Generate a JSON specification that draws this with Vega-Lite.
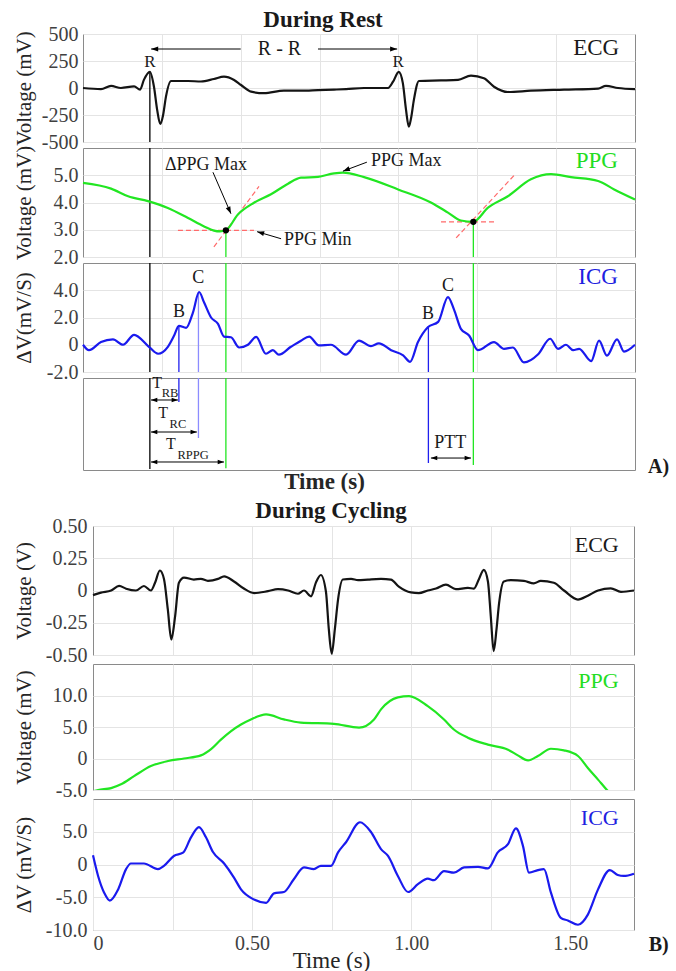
{
  "$schema": "https://vega.github.io/schema/vega-lite/v6.json",
  "background": "white",
  "padding": {"left": 12, "top": 8, "right": 0, "bottom": 0},
  "columns": 1,
  "spacing": 5,
  "datasets": {
    "ecgR": [{"t":0,"v":0},{"t":0.057,"v":-10},{"t":0.089,"v":20},{"t":0.12,"v":0},{"t":0.162,"v":15},{"t":0.181,"v":-15},{"t":0.193,"v":75},{"t":0.212,"v":150},{"t":0.225,"v":12},{"t":0.235,"v":-200},{"t":0.245,"v":-333},{"t":0.254,"v":-250},{"t":0.263,"v":-80},{"t":0.279,"v":65},{"t":0.333,"v":65},{"t":0.374,"v":60},{"t":0.415,"v":83},{"t":0.447,"v":105},{"t":0.479,"v":74},{"t":0.501,"v":28},{"t":0.533,"v":-34},{"t":0.574,"v":-48},{"t":0.637,"v":-25},{"t":0.691,"v":-25},{"t":0.745,"v":-20},{"t":0.796,"v":-15},{"t":0.834,"v":-10},{"t":0.891,"v":0},{"t":0.967,"v":0},{"t":0.983,"v":58},{"t":1.001,"v":150},{"t":1.014,"v":45},{"t":1.024,"v":-200},{"t":1.033,"v":-358},{"t":1.04,"v":-280},{"t":1.049,"v":-110},{"t":1.065,"v":65},{"t":1.135,"v":70},{"t":1.189,"v":75},{"t":1.23,"v":114},{"t":1.271,"v":90},{"t":1.303,"v":12},{"t":1.347,"v":-37},{"t":1.42,"v":-25},{"t":1.525,"v":-15},{"t":1.633,"v":-5},{"t":1.658,"v":20},{"t":1.696,"v":0},{"t":1.75,"v":-10}],
    "ppgR": [{"t":0,"v":4.72},{"t":0.089,"v":4.51},{"t":0.143,"v":4.23},{"t":0.206,"v":4.05},{"t":0.269,"v":3.8},{"t":0.333,"v":3.43},{"t":0.384,"v":3.12},{"t":0.415,"v":2.97},{"t":0.434,"v":2.94},{"t":0.453,"v":2.98},{"t":0.491,"v":3.56},{"t":0.542,"v":3.99},{"t":0.596,"v":4.3},{"t":0.65,"v":4.69},{"t":0.691,"v":4.91},{"t":0.745,"v":4.94},{"t":0.796,"v":5.07},{"t":0.824,"v":5.1},{"t":0.891,"v":4.93},{"t":0.999,"v":4.48},{"t":1.103,"v":4.0},{"t":1.157,"v":3.63},{"t":1.198,"v":3.34},{"t":1.237,"v":3.29},{"t":1.284,"v":3.81},{"t":1.347,"v":4.23},{"t":1.42,"v":4.85},{"t":1.484,"v":5.04},{"t":1.547,"v":4.93},{"t":1.633,"v":4.79},{"t":1.684,"v":4.48},{"t":1.75,"v":4.11}],
    "icgR": [{"t":0,"v":0},{"t":0.019,"v":-0.4},{"t":0.057,"v":0.2},{"t":0.095,"v":0.4},{"t":0.127,"v":0},{"t":0.162,"v":0.73},{"t":0.209,"v":-0.15},{"t":0.238,"v":-0.66},{"t":0.269,"v":-0.15},{"t":0.289,"v":0.68},{"t":0.304,"v":1.39},{"t":0.327,"v":1.24},{"t":0.349,"v":2.4},{"t":0.368,"v":3.87},{"t":0.384,"v":3.1},{"t":0.406,"v":2.0},{"t":0.428,"v":1.53},{"t":0.447,"v":0.6},{"t":0.469,"v":0.55},{"t":0.495,"v":-0.2},{"t":0.523,"v":0},{"t":0.549,"v":0.58},{"t":0.58,"v":-0.66},{"t":0.602,"v":-0.4},{"t":0.621,"v":-0.73},{"t":0.659,"v":-0.15},{"t":0.691,"v":0.3},{"t":0.717,"v":0.6},{"t":0.748,"v":-0.05},{"t":0.786,"v":0},{"t":0.834,"v":-0.73},{"t":0.875,"v":0.3},{"t":0.913,"v":-0.1},{"t":0.938,"v":0.1},{"t":0.977,"v":-0.4},{"t":1.015,"v":-0.78},{"t":1.037,"v":-1.25},{"t":1.062,"v":0.2},{"t":1.094,"v":1.3},{"t":1.126,"v":1.68},{"t":1.157,"v":3.5},{"t":1.176,"v":2.6},{"t":1.198,"v":1.17},{"t":1.224,"v":0.68},{"t":1.252,"v":-0.4},{"t":1.303,"v":0.2},{"t":1.335,"v":-0.3},{"t":1.363,"v":-0.2},{"t":1.398,"v":-1.3},{"t":1.443,"v":-0.7},{"t":1.481,"v":0.44},{"t":1.506,"v":-0.3},{"t":1.531,"v":0},{"t":1.554,"v":-0.4},{"t":1.573,"v":-0.3},{"t":1.611,"v":-1.2},{"t":1.636,"v":0.3},{"t":1.661,"v":-0.8},{"t":1.693,"v":0.4},{"t":1.715,"v":-0.5},{"t":1.75,"v":0}],
    "ecgC": [{"t":0,"v":-0.036},{"t":0.025,"v":-0.016},{"t":0.057,"v":0},{"t":0.082,"v":0.036},{"t":0.104,"v":0.014},{"t":0.135,"v":0},{"t":0.16,"v":0.035},{"t":0.182,"v":0},{"t":0.195,"v":0.06},{"t":0.21,"v":0.155},{"t":0.223,"v":0.09},{"t":0.235,"v":-0.145},{"t":0.246,"v":-0.38},{"t":0.258,"v":-0.2},{"t":0.27,"v":0.06},{"t":0.286,"v":0.1},{"t":0.317,"v":0.085},{"t":0.339,"v":0.09},{"t":0.361,"v":0.075},{"t":0.393,"v":0.09},{"t":0.412,"v":0.11},{"t":0.443,"v":0.07},{"t":0.474,"v":0.015},{"t":0.506,"v":-0.02},{"t":0.55,"v":-0.005},{"t":0.581,"v":0.01},{"t":0.613,"v":0},{"t":0.644,"v":-0.025},{"t":0.663,"v":0},{"t":0.685,"v":-0.045},{"t":0.701,"v":0.065},{"t":0.716,"v":0.12},{"t":0.732,"v":-0.01},{"t":0.741,"v":-0.3},{"t":0.75,"v":-0.49},{"t":0.76,"v":-0.3},{"t":0.77,"v":-0.07},{"t":0.785,"v":0.085},{"t":0.811,"v":0.09},{"t":0.833,"v":0.08},{"t":0.864,"v":0.085},{"t":0.905,"v":0.09},{"t":0.936,"v":0.085},{"t":0.961,"v":0.03},{"t":0.999,"v":-0.015},{"t":1.024,"v":-0.02},{"t":1.052,"v":0},{"t":1.078,"v":0.015},{"t":1.109,"v":0.045},{"t":1.14,"v":0.01},{"t":1.178,"v":0.02},{"t":1.197,"v":0.015},{"t":1.213,"v":0.09},{"t":1.228,"v":0.16},{"t":1.241,"v":0.07},{"t":1.25,"v":-0.2},{"t":1.259,"v":-0.47},{"t":1.268,"v":-0.3},{"t":1.276,"v":-0.1},{"t":1.291,"v":0.07},{"t":1.313,"v":0.08},{"t":1.354,"v":0.075},{"t":1.385,"v":0.055},{"t":1.407,"v":0.075},{"t":1.448,"v":0.06},{"t":1.48,"v":0},{"t":1.524,"v":-0.07},{"t":1.555,"v":-0.04},{"t":1.587,"v":0},{"t":1.627,"v":0.017},{"t":1.659,"v":-0.01},{"t":1.7,"v":0}],
    "ppgC": [{"t":0,"v":-5.2},{"t":0.016,"v":-5.0},{"t":0.057,"v":-4.7},{"t":0.088,"v":-4.1},{"t":0.129,"v":-2.8},{"t":0.182,"v":-1.2},{"t":0.236,"v":-0.4},{"t":0.286,"v":0},{"t":0.339,"v":0.5},{"t":0.371,"v":1.5},{"t":0.402,"v":3.0},{"t":0.434,"v":4.35},{"t":0.465,"v":5.4},{"t":0.496,"v":6.2},{"t":0.544,"v":7.0},{"t":0.6,"v":6.2},{"t":0.653,"v":5.7},{"t":0.757,"v":5.5},{"t":0.836,"v":4.9},{"t":0.883,"v":6.2},{"t":0.905,"v":7.8},{"t":0.958,"v":9.7},{"t":0.993,"v":9.9},{"t":1.052,"v":8.3},{"t":1.103,"v":6.2},{"t":1.134,"v":4.6},{"t":1.178,"v":3.3},{"t":1.241,"v":2.2},{"t":1.304,"v":1.4},{"t":1.335,"v":0.5},{"t":1.367,"v":-0.3},{"t":1.398,"v":0.4},{"t":1.439,"v":1.55},{"t":1.48,"v":1.3},{"t":1.524,"v":0.4},{"t":1.555,"v":-1.5},{"t":1.587,"v":-3.35},{"t":1.615,"v":-5.0},{"t":1.634,"v":-6.0}],
    "icgC": [{"t":0,"v":1.4},{"t":0.016,"v":-1.75},{"t":0.035,"v":-4.3},{"t":0.053,"v":-5.5},{"t":0.079,"v":-3.8},{"t":0.104,"v":-0.7},{"t":0.119,"v":0.15},{"t":0.16,"v":0.15},{"t":0.204,"v":-0.7},{"t":0.223,"v":-0.2},{"t":0.254,"v":1.3},{"t":0.283,"v":1.8},{"t":0.308,"v":4.15},{"t":0.333,"v":5.7},{"t":0.355,"v":4.15},{"t":0.377,"v":1.9},{"t":0.412,"v":0.15},{"t":0.443,"v":-2.0},{"t":0.465,"v":-3.8},{"t":0.506,"v":-5.35},{"t":0.544,"v":-5.85},{"t":0.569,"v":-4.4},{"t":0.6,"v":-4.2},{"t":0.631,"v":-2.25},{"t":0.663,"v":-0.45},{"t":0.694,"v":-0.7},{"t":0.716,"v":-0.2},{"t":0.748,"v":-0.2},{"t":0.77,"v":1.85},{"t":0.795,"v":3.4},{"t":0.839,"v":6.45},{"t":0.873,"v":5.0},{"t":0.905,"v":2.35},{"t":0.927,"v":1.3},{"t":0.958,"v":-1.75},{"t":0.99,"v":-4.2},{"t":1.021,"v":-3.0},{"t":1.052,"v":-2.15},{"t":1.071,"v":-2.4},{"t":1.103,"v":-1.0},{"t":1.134,"v":-1.25},{"t":1.166,"v":-0.45},{"t":1.21,"v":-0.35},{"t":1.241,"v":-0.6},{"t":1.272,"v":1.85},{"t":1.304,"v":3.1},{"t":1.329,"v":5.5},{"t":1.351,"v":2.85},{"t":1.37,"v":-1.25},{"t":1.398,"v":-0.85},{"t":1.417,"v":-0.7},{"t":1.439,"v":-4.3},{"t":1.47,"v":-8.15},{"t":1.492,"v":-8.55},{"t":1.524,"v":-9.2},{"t":1.555,"v":-7.65},{"t":1.587,"v":-3.8},{"t":1.624,"v":-0.85},{"t":1.649,"v":-1.6},{"t":1.668,"v":-1.75},{"t":1.7,"v":-1.4}]
  },
  "concat": [
    {
      "title": {"text": "During Rest", "dx": 240, "offset": -8},
      "bounds": "flush",
      "spacing": 6,
      "vconcat": [
        {
          "width": 552, "height": 108,
          "encoding": {
            "x": {"field": "t", "type": "quantitative", "scale": {"domain": [0, 1.75], "nice": false, "zero": false}, "axis": {"values": [0.25, 0.5, 0.75, 1, 1.25, 1.5], "labels": false, "title": null, "grid": true}},
            "y": {"field": "v", "type": "quantitative", "scale": {"domain": [-500, 500], "nice": false, "zero": false}, "axis": {"values": [-500, -250, 0, 250, 500], "title": "Voltage (mV)", "labelExpr": "datum.value < 0 ? '-' + format(-datum.value, 'd') : format(datum.value, 'd')", "labelPadding": 5, "minExtent": 46, "maxExtent": 46, "titlePadding": 3}}
          },
          "layer": [
            {"data": {"values": [{"t": 0.212, "v": 150, "v2": -500, "k": "R"}]}, "mark": {"type": "rule", "strokeWidth": 1.3}, "encoding": {"y2": {"field": "v2"}, "color": {"field": "k", "type": "nominal", "scale": {"domain": ["R", "G", "B", "C"], "range": ["#000000", "#22e622", "#2020ee", "#8c8cff"]}, "legend": null}}},
            {"data": {"values": [{"t": 0.216, "t2": 0.5, "v": 361}, {"t": 0.745, "t2": 0.996, "v": 361}]}, "mark": {"type": "rule", "color": "#000000", "strokeWidth": 1}, "encoding": {"x2": {"field": "t2"}}},
            {"data": {"values": [{"t": 0.216, "v": 361}]}, "mark": {"type": "point", "shape": "M0,0L-2,-0.7L-2,0.7Z", "filled": true, "color": "#000000", "opacity": 1, "size": 50, "angle": 180}},
            {"data": {"values": [{"t": 0.996, "v": 361}]}, "mark": {"type": "point", "shape": "M0,0L-2,-0.7L-2,0.7Z", "filled": true, "color": "#000000", "opacity": 1, "size": 50, "angle": 0}},
            {"data": {"name": "ecgR"}, "mark": {"type": "line", "color": "#141414", "strokeWidth": 2.2, "interpolate": "monotone"}},
            {"data": {"values": [{"t": 0.623, "v": 361, "label": "R - R"}]}, "mark": {"type": "text", "fontSize": 20, "color": "#1a1a1a", "baseline": "middle"}, "encoding": {"text": {"field": "label"}}},
            {"data": {"values": [{"t": 0.212, "v": 240, "label": "R"}, {"t": 0.999, "v": 240, "label": "R"}]}, "mark": {"type": "text", "fontSize": 17, "color": "#1a1a1a", "baseline": "middle"}, "encoding": {"text": {"field": "label"}}},
            {"data": {"values": [{"t": 1.70, "v": 370, "label": "ECG"}]}, "mark": {"type": "text", "fontSize": 23, "align": "right", "baseline": "middle", "color": "#1a1a1a"}, "encoding": {"text": {"field": "label"}}}
          ]
        },
        {
          "width": 552, "height": 109,
          "encoding": {
            "x": {"field": "t", "type": "quantitative", "scale": {"domain": [0, 1.75], "nice": false, "zero": false}, "axis": {"values": [0.25, 0.5, 0.75, 1, 1.25, 1.5], "labels": false, "title": null, "grid": true}},
            "y": {"field": "v", "type": "quantitative", "scale": {"domain": [2, 6], "nice": false, "zero": false}, "axis": {"values": [2, 3, 4, 5], "title": "Voltage (mV)", "labelExpr": "format(datum.value, '.1f')", "labelPadding": 5, "minExtent": 46, "maxExtent": 46, "titlePadding": 3}}
          },
          "layer": [
            {"data": {"values": [{"t": 0.212, "v": 6, "v2": 2, "k": "R"}, {"t": 0.453, "v": 2.98, "v2": 2, "k": "G"}, {"t": 1.2375, "v": 3.29, "v2": 2, "k": "G"}]}, "mark": {"type": "rule", "strokeWidth": 1.3}, "encoding": {"y2": {"field": "v2"}, "color": {"field": "k", "type": "nominal", "legend": null}}},
            {"data": {"values": [{"t": 0.301, "t2": 0.542, "v": 2.98}, {"t": 1.135, "t2": 1.309, "v": 3.29}]}, "mark": {"type": "rule", "color": "#ff6a6a", "strokeWidth": 1.2, "strokeDash": [5, 3]}, "encoding": {"x2": {"field": "t2"}}},
            {"data": {"values": [{"t": 0.415, "v": 2.37, "t2": 0.558, "v2": 4.59}, {"t": 1.183, "v": 2.7, "t2": 1.367, "v2": 5.0}]}, "mark": {"type": "rule", "color": "#ff6a6a", "strokeWidth": 1.2, "strokeDash": [5, 3]}, "encoding": {"x2": {"field": "t2"}, "y2": {"field": "v2"}}},
            {"data": {"name": "ppgR"}, "mark": {"type": "line", "color": "#22e622", "strokeWidth": 2.2, "interpolate": "monotone"}},
            {"data": {"values": [{"t": 0.453, "v": 2.98}, {"t": 1.2375, "v": 3.29}]}, "mark": {"type": "point", "filled": true, "color": "#000000", "opacity": 1, "size": 40}},
            {"data": {"values": [{"t": 0.412, "v": 5.11, "t2": 0.469, "v2": 3.59}, {"t": 0.628, "v": 2.67, "t2": 0.552, "v2": 2.93}, {"t": 0.9, "v": 5.48, "t2": 0.824, "v2": 5.15}]}, "mark": {"type": "rule", "color": "#000000", "strokeWidth": 1}, "encoding": {"x2": {"field": "t2"}, "y2": {"field": "v2"}}},
            {"data": {"values": [{"t": 0.469, "v": 3.59}]}, "mark": {"type": "point", "shape": "M0,0L-2,-0.7L-2,0.7Z", "filled": true, "color": "#000000", "opacity": 1, "size": 50, "angle": 66}},
            {"data": {"values": [{"t": 0.552, "v": 2.93}]}, "mark": {"type": "point", "shape": "M0,0L-2,-0.7L-2,0.7Z", "filled": true, "color": "#000000", "opacity": 1, "size": 50, "angle": 196}},
            {"data": {"values": [{"t": 0.824, "v": 5.15}]}, "mark": {"type": "point", "shape": "M0,0L-2,-0.7L-2,0.7Z", "filled": true, "color": "#000000", "opacity": 1, "size": 50, "angle": 159}},
            {"data": {"values": [{"t": 0.39, "v": 5.37, "label": "ΔPPG Max"}]}, "mark": {"type": "text", "fontSize": 18, "color": "#1a1a1a", "baseline": "middle"}, "encoding": {"text": {"field": "label"}}},
            {"data": {"values": [{"t": 0.637, "v": 2.63, "label": "PPG Min"}, {"t": 0.913, "v": 5.52, "label": "PPG Max"}]}, "mark": {"type": "text", "fontSize": 18, "color": "#1a1a1a", "align": "left", "baseline": "middle"}, "encoding": {"text": {"field": "label"}}},
            {"data": {"values": [{"t": 1.696, "v": 5.52, "label": "PPG"}]}, "mark": {"type": "text", "fontSize": 23, "align": "right", "baseline": "middle", "color": "#22dd22"}, "encoding": {"text": {"field": "label"}}}
          ]
        },
        {
          "width": 552, "height": 109,
          "encoding": {
            "x": {"field": "t", "type": "quantitative", "scale": {"domain": [0, 1.75], "nice": false, "zero": false}, "axis": {"values": [0.25, 0.5, 0.75, 1, 1.25, 1.5], "labels": false, "title": null, "grid": true}},
            "y": {"field": "v", "type": "quantitative", "scale": {"domain": [-2, 6], "nice": false, "zero": false}, "axis": {"values": [-2, 0, 2, 4], "title": "ΔV(mV/S)", "labelExpr": "datum.value == 0 ? '0' : (datum.value < 0 ? '-' + format(-datum.value, '.1f') : format(datum.value, '.1f'))", "labelPadding": 5, "minExtent": 46, "maxExtent": 46, "titlePadding": 3}}
          },
          "layer": [
            {"data": {"values": [{"t": 0.212, "v": 6, "v2": -2, "k": "R"}, {"t": 0.453, "v": 6, "v2": -2, "k": "G"}, {"t": 1.2375, "v": 6, "v2": -2, "k": "G"}, {"t": 0.304, "v": 1.39, "v2": -2, "k": "B"}, {"t": 0.366, "v": 3.87, "v2": -2, "k": "C"}, {"t": 1.095, "v": 1.3, "v2": -2, "k": "B"}]}, "mark": {"type": "rule", "strokeWidth": 1.3}, "encoding": {"y2": {"field": "v2"}, "color": {"field": "k", "type": "nominal", "legend": null}}},
            {"data": {"name": "icgR"}, "mark": {"type": "line", "color": "#1a1aee", "strokeWidth": 2.2, "interpolate": "monotone"}},
            {"data": {"values": [{"t": 0.304, "v": 2.4, "label": "B"}, {"t": 0.365, "v": 4.9, "label": "C"}, {"t": 1.094, "v": 2.26, "label": "B"}, {"t": 1.157, "v": 4.3, "label": "C"}]}, "mark": {"type": "text", "fontSize": 18, "color": "#1a1a1a", "baseline": "middle"}, "encoding": {"text": {"field": "label"}}},
            {"data": {"values": [{"t": 1.696, "v": 4.96, "label": "ICG"}]}, "mark": {"type": "text", "fontSize": 23, "align": "right", "baseline": "middle", "color": "#2020e0"}, "encoding": {"text": {"field": "label"}}}
          ]
        },
        {
          "width": 552, "height": 92,
          "encoding": {
            "x": {"field": "t", "type": "quantitative", "scale": {"domain": [0, 1.75], "nice": false, "zero": false}, "axis": {"values": [], "labels": false, "grid": false, "title": "Time (s)", "titleFontWeight": "bold", "titleFontSize": 23, "titleX": 241, "titlePadding": 0}},
            "y": {"field": "v", "type": "quantitative", "scale": {"domain": [0, 1], "nice": false, "zero": false}, "axis": null}
          },
          "layer": [
            {"data": {"values": [{"t": 0.212, "v": 1, "v2": 0.01, "k": "R"}, {"t": 0.453, "v": 1, "v2": 0.02, "k": "G"}, {"t": 1.2375, "v": 1, "v2": 0.054, "k": "G"}, {"t": 0.304, "v": 1, "v2": 0.74, "k": "B"}, {"t": 0.366, "v": 1, "v2": 0.348, "k": "C"}, {"t": 1.095, "v": 1, "v2": 0.076, "k": "B"}]}, "mark": {"type": "rule", "strokeWidth": 1.3}, "encoding": {"y2": {"field": "v2"}, "color": {"field": "k", "type": "nominal", "legend": null}}},
            {"data": {"values": [{"t": 0.2156, "t2": 0.301, "v": 0.761}, {"t": 0.2156, "t2": 0.361, "v": 0.413}, {"t": 0.2156, "t2": 0.447, "v": 0.087}, {"t": 1.103, "t2": 1.23, "v": 0.13}]}, "mark": {"type": "rule", "color": "#000000", "strokeWidth": 1}, "encoding": {"x2": {"field": "t2"}}},
            {"data": {"values": [{"t": 0.2156, "v": 0.761}, {"t": 0.2156, "v": 0.413}, {"t": 0.2156, "v": 0.087}, {"t": 1.103, "v": 0.13}]}, "mark": {"type": "point", "shape": "M0,0L-2,-0.7L-2,0.7Z", "filled": true, "color": "#000000", "opacity": 1, "size": 40, "angle": 180}},
            {"data": {"values": [{"t": 0.301, "v": 0.761}, {"t": 0.361, "v": 0.413}, {"t": 0.447, "v": 0.087}, {"t": 1.23, "v": 0.13}]}, "mark": {"type": "point", "shape": "M0,0L-2,-0.7L-2,0.7Z", "filled": true, "color": "#000000", "opacity": 1, "size": 40, "angle": 0}},
            {"data": {"values": [{"t": 0.235, "v": 0.946, "label": "T"}, {"t": 0.254, "v": 0.62, "label": "T"}, {"t": 0.279, "v": 0.283, "label": "T"}]}, "mark": {"type": "text", "fontSize": 16, "color": "#1a1a1a", "baseline": "middle"}, "encoding": {"text": {"field": "label"}}},
            {"data": {"values": [{"t": 0.276, "v": 0.837, "label": "RB"}, {"t": 0.301, "v": 0.5, "label": "RC"}, {"t": 0.349, "v": 0.163, "label": "RPPG"}]}, "mark": {"type": "text", "fontSize": 12.5, "color": "#1a1a1a", "baseline": "middle"}, "encoding": {"text": {"field": "label"}}},
            {"data": {"values": [{"t": 1.164, "v": 0.293, "label": "PTT"}]}, "mark": {"type": "text", "fontSize": 18, "color": "#1a1a1a", "baseline": "middle"}, "encoding": {"text": {"field": "label"}}},
            {"data": {"values": [{"t": 1.791, "v": 0.033, "label": "A)"}]}, "mark": {"type": "text", "fontSize": 20, "fontWeight": "bold", "color": "#1a1a1a", "align": "left", "baseline": "middle"}, "encoding": {"text": {"field": "label"}}}
          ]
        }
      ]
    },
    {
      "bounds": "flush",
      "spacing": 9,
      "hconcat": [
        {
          "width": 1, "height": 1,
          "view": {"stroke": null},
          "data": {"values": [{"t": 0}]},
          "mark": {"type": "point", "opacity": 0},
          "encoding": {"x": {"field": "t", "type": "quantitative", "axis": null}}
        },
        {
          "title": {"text": "During Cycling", "dx": 238, "offset": -7},
          "bounds": "flush",
          "spacing": 9,
          "vconcat": [
            {
              "width": 541, "height": 129,
              "encoding": {
                "x": {"field": "t", "type": "quantitative", "scale": {"domain": [0, 1.7], "nice": false, "zero": false}, "axis": {"values": [0.25, 0.5, 0.75, 1, 1.25, 1.5], "labels": false, "title": null, "grid": true}},
                "y": {"field": "v", "type": "quantitative", "scale": {"domain": [-0.5, 0.5], "nice": false, "zero": false}, "axis": {"values": [-0.5, -0.25, 0, 0.25, 0.5], "title": "Voltage (V)", "labelExpr": "datum.value == 0 ? '0' : (datum.value < 0 ? '-' + format(-datum.value, '.2f') : format(datum.value, '.2f'))", "labelPadding": 6, "minExtent": 56, "maxExtent": 56, "titlePadding": 3}}
              },
              "layer": [
                {"data": {"name": "ecgC"}, "mark": {"type": "line", "color": "#141414", "strokeWidth": 2.2, "interpolate": "monotone"}},
                {"data": {"values": [{"t": 1.652, "v": 0.35, "label": "ECG"}]}, "mark": {"type": "text", "fontSize": 22, "align": "right", "baseline": "middle", "color": "#1a1a1a"}, "encoding": {"text": {"field": "label"}}}
              ]
            },
            {
              "width": 541, "height": 126,
              "encoding": {
                "x": {"field": "t", "type": "quantitative", "scale": {"domain": [0, 1.7], "nice": false, "zero": false}, "axis": {"values": [0.25, 0.5, 0.75, 1, 1.25, 1.5], "labels": false, "title": null, "grid": true}},
                "y": {"field": "v", "type": "quantitative", "scale": {"domain": [-5, 15], "nice": false, "zero": false}, "axis": {"values": [-5, 0, 5, 10], "title": "Voltage (mV)", "labelExpr": "datum.value == 0 ? '0' : (datum.value < 0 ? '-' + format(-datum.value, '.1f') : format(datum.value, '.1f'))", "labelPadding": 6, "minExtent": 56, "maxExtent": 56, "titlePadding": 3}}
              },
              "layer": [
                {"data": {"name": "ppgC"}, "mark": {"type": "line", "color": "#22e622", "strokeWidth": 2.2, "interpolate": "monotone", "clip": true}},
                {"data": {"values": [{"t": 1.652, "v": 12.3, "label": "PPG"}]}, "mark": {"type": "text", "fontSize": 22, "align": "right", "baseline": "middle", "color": "#22dd22"}, "encoding": {"text": {"field": "label"}}}
              ]
            },
            {
              "width": 541, "height": 131,
              "encoding": {
                "x": {"field": "t", "type": "quantitative", "scale": {"domain": [0, 1.7], "nice": false, "zero": false}, "axis": {"values": [0, 0.25, 0.5, 0.75, 1, 1.25, 1.5], "labelExpr": "datum.value % 0.5 == 0 ? (datum.value == 0 ? '0' : format(datum.value, '.2f')) : ''", "labelPadding": 3, "grid": true, "title": "Time (s)", "titleFontSize": 23, "titleX": 238, "titlePadding": -4}},
                "y": {"field": "v", "type": "quantitative", "scale": {"domain": [-10, 10], "nice": false, "zero": false}, "axis": {"values": [-10, -5, 0, 5], "title": "ΔV (mV/S)", "labelExpr": "datum.value == 0 ? '0' : (datum.value < 0 ? '-' + format(-datum.value, '.1f') : format(datum.value, '.1f'))", "labelPadding": 6, "minExtent": 56, "maxExtent": 56, "titlePadding": 3}}
              },
              "layer": [
                {"data": {"name": "icgC"}, "mark": {"type": "line", "color": "#1a1aee", "strokeWidth": 2.2, "interpolate": "monotone"}},
                {"data": {"values": [{"t": 1.652, "v": 7.1, "label": "ICG"}]}, "mark": {"type": "text", "fontSize": 22, "align": "right", "baseline": "middle", "color": "#2020e0"}, "encoding": {"text": {"field": "label"}}},
                {"data": {"values": [{"t": 1.746, "v": -12.26, "label": "B)"}]}, "mark": {"type": "text", "fontSize": 20, "fontWeight": "bold", "color": "#1a1a1a", "align": "left", "baseline": "middle"}, "encoding": {"text": {"field": "label"}}}
              ]
            }
          ]
        }
      ]
    }
  ],
  "config": {
    "font": "Liberation Serif",
    "view": {"stroke": "#8a8a8a", "strokeWidth": 1},
    "axis": {"labelFont": "Liberation Serif", "titleFont": "Liberation Serif", "labelFontSize": 20, "titleFontSize": 21, "labelColor": "#404040", "titleColor": "#262626", "titleFontWeight": "normal", "gridColor": "#e4e4e4", "domain": false, "ticks": false},
    "title": {"font": "Liberation Serif", "fontSize": 23, "fontWeight": "bold", "color": "#1a1a1a", "anchor": "middle", "frame": "group", "offset": 2},
    "text": {"font": "Liberation Serif"}
  }
}
